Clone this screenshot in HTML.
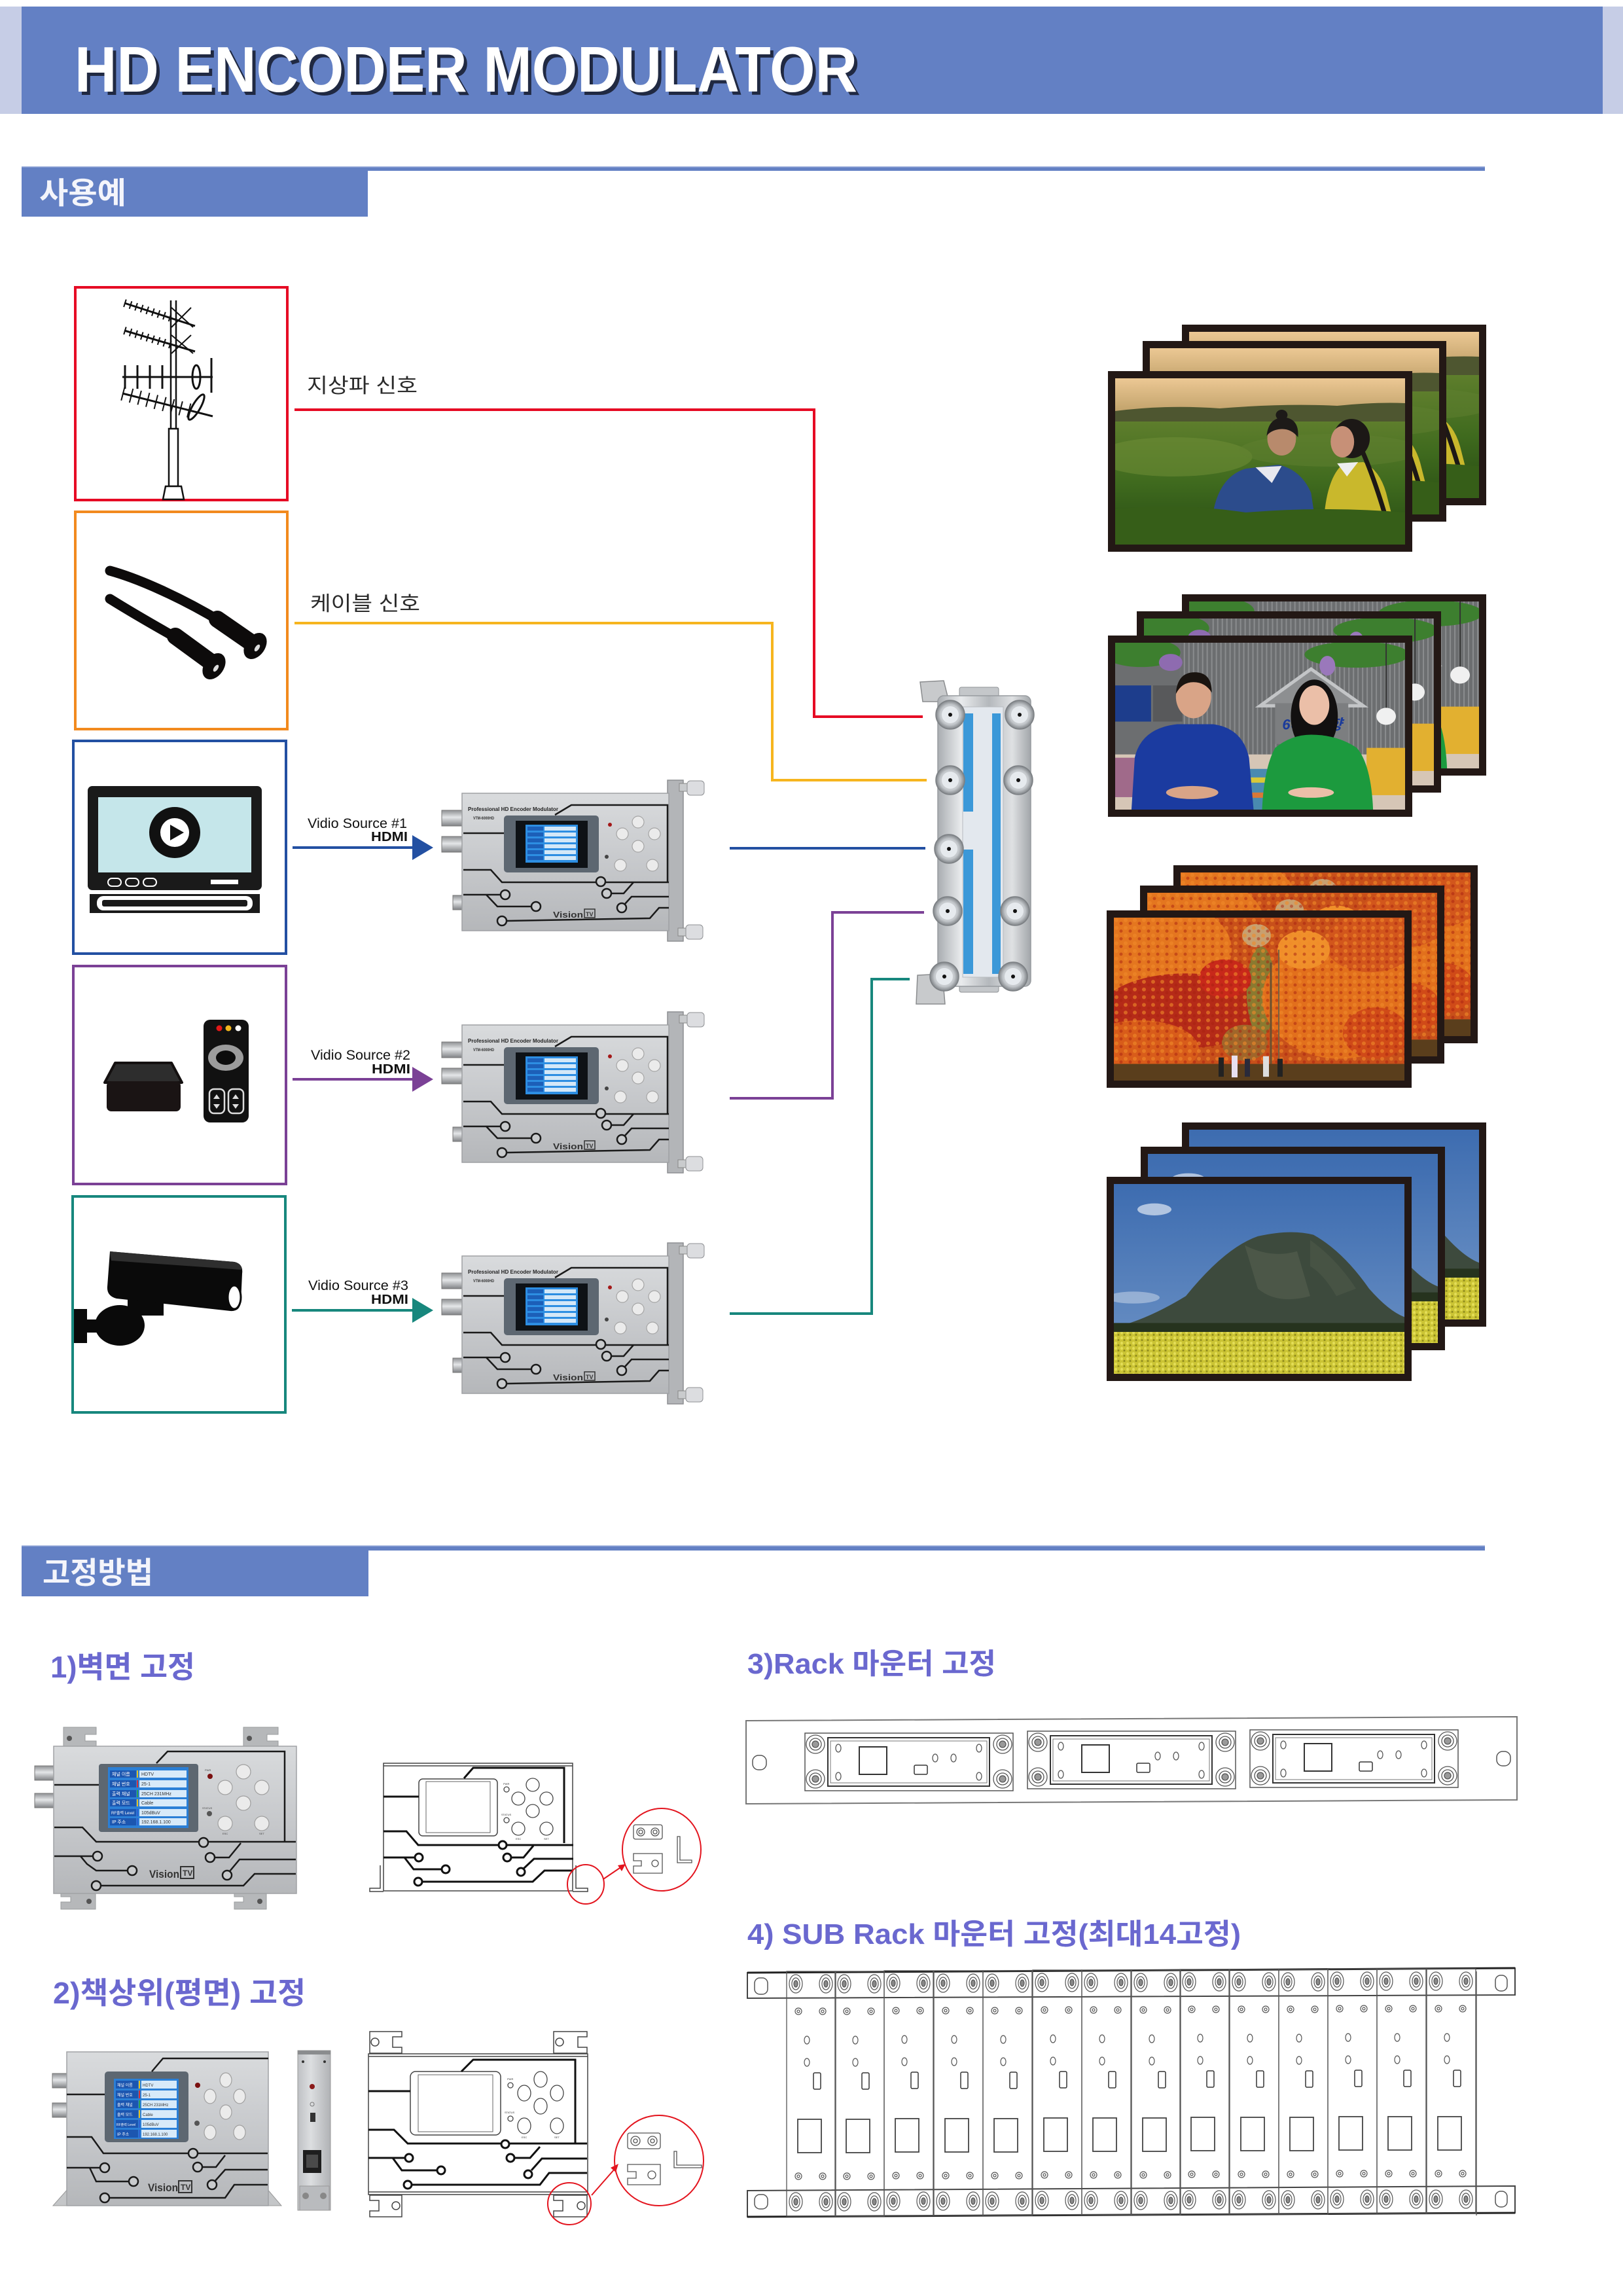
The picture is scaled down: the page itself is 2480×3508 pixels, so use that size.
<!DOCTYPE html>
<html><head><meta charset="utf-8"><style>
html,body{margin:0;padding:0;background:#fff;}
body{width:2480px;height:3508px;overflow:hidden;}
svg{display:block;}
text{font-family:"Liberation Sans","Noto Sans CJK KR",sans-serif;}
</style></head><body>
<svg width="2480" height="3508" viewBox="0 0 2480 3508" xmlns="http://www.w3.org/2000/svg">
<defs>
<linearGradient id="silver" x1="0" y1="0" x2="0" y2="1"><stop offset="0" stop-color="#d9dbdd"/><stop offset=".5" stop-color="#c7c9cc"/><stop offset="1" stop-color="#b5b7ba"/></linearGradient>
<linearGradient id="silverH" x1="0" y1="0" x2="1" y2="0"><stop offset="0" stop-color="#bfc1c4"/><stop offset=".4" stop-color="#dcdee0"/><stop offset="1" stop-color="#b0b2b5"/></linearGradient>
<linearGradient id="conn" x1="0" y1="0" x2="0" y2="1"><stop offset="0" stop-color="#8e9093"/><stop offset=".45" stop-color="#e4e6e8"/><stop offset="1" stop-color="#808285"/></linearGradient>
<linearGradient id="spl" x1="0" y1="0" x2="1" y2="0"><stop offset="0" stop-color="#a9adb1"/><stop offset=".25" stop-color="#e9ebed"/><stop offset=".55" stop-color="#b4b8bc"/><stop offset=".8" stop-color="#dfe1e3"/><stop offset="1" stop-color="#a2a6aa"/></linearGradient>
<radialGradient id="connG"><stop offset="0" stop-color="#f2f4f6"/><stop offset=".7" stop-color="#c3c7cb"/><stop offset="1" stop-color="#7f8387"/></radialGradient>
<linearGradient id="sky1" x1="0" y1="0" x2="0" y2="1"><stop offset="0" stop-color="#ecc894"/><stop offset="1" stop-color="#b89a62"/></linearGradient>
<linearGradient id="field1" x1="0" y1="0" x2="0" y2="1"><stop offset="0" stop-color="#5e7e2c"/><stop offset=".5" stop-color="#3f6a1e"/><stop offset="1" stop-color="#264a12"/></linearGradient>
<linearGradient id="sky4" x1="0" y1="0" x2="0" y2="1"><stop offset="0" stop-color="#3d6cb0"/><stop offset="1" stop-color="#6f94c6"/></linearGradient>
<pattern id="stripes" width="7" height="10" patternUnits="userSpaceOnUse"><rect width="7" height="10" fill="#6c6e70"/><rect width="2" height="10" fill="#8a8c8e"/></pattern>
<pattern id="flowers" width="9" height="7" patternUnits="userSpaceOnUse"><rect width="9" height="7" fill="#cbc434"/><circle cx="3" cy="3" r="2" fill="#e4de58"/><circle cx="7" cy="6" r="1.5" fill="#8e8a1c"/></pattern>
<pattern id="leaves" width="14" height="12" patternUnits="userSpaceOnUse"><circle cx="4" cy="4" r="3" fill="#f08a2a" opacity=".6"/><circle cx="11" cy="9" r="2.5" fill="#a8200f" opacity=".5"/></pattern>

<symbol id="sc1" viewBox="0 0 444 254" preserveAspectRatio="none">
<rect width="444" height="254" fill="#426a1e"/>
<rect width="444" height="62" fill="url(#sky1)"/>
<path d="M0,50 Q80,40 160,46 Q260,38 340,42 Q400,36 444,38 L444,74 L0,74Z" fill="#4e5630"/>
<rect y="66" width="444" height="188" fill="url(#field1)"/>
<ellipse cx="90" cy="120" rx="120" ry="30" fill="#6f8e36" opacity=".55"/>
<ellipse cx="330" cy="110" rx="140" ry="25" fill="#5f8030" opacity=".5"/>
<path d="M150,205 Q160,150 200,138 L250,132 Q285,140 300,175 L305,208 Z" fill="#2c4c8c"/>
<path d="M215,136 L240,160 L255,134Z" fill="#e8e8ee"/>
<ellipse cx="255" cy="92" rx="22" ry="26" fill="#b88a6c"/>
<path d="M232,88 Q235,58 262,60 Q282,64 280,90 Q268,75 250,78 Q238,80 232,88Z" fill="#1d1a18"/>
<ellipse cx="255" cy="56" rx="9" ry="8" fill="#1d1a18"/>
<ellipse cx="362" cy="92" rx="28" ry="30" fill="#1c1816"/>
<ellipse cx="348" cy="97" rx="18" ry="24" fill="#c79077"/>
<path d="M320,212 Q325,150 350,130 L380,128 Q405,140 415,175 L425,214Z" fill="#c9b82c"/>
<path d="M340,130 L355,150 L372,128Z" fill="#eeeeee"/>
<path d="M378,110 Q400,160 420,232" stroke="#1c1816" stroke-width="7" fill="none"/>
<path d="M0,200 Q100,190 200,205 Q320,195 444,205 L444,254 L0,254Z" fill="#365e18"/>
</symbol>

<symbol id="sc2" viewBox="0 0 444 254" preserveAspectRatio="none">
<rect width="444" height="254" fill="#6c6e70"/>
<rect x="100" y="0" width="344" height="175" fill="url(#stripes)"/>
<rect x="0" y="65" width="55" height="55" fill="#1d3d8c"/>
<rect x="58" y="65" width="45" height="55" fill="#58595b"/>
<ellipse cx="40" cy="15" rx="60" ry="22" fill="#3d7f2f"/>
<ellipse cx="85" cy="30" rx="18" ry="13" fill="#8e6bb0"/>
<ellipse cx="370" cy="18" rx="80" ry="20" fill="#3d7f2f"/>
<ellipse cx="325" cy="35" rx="12" ry="15" fill="#9a78bb"/>
<polygon points="222,96 300,40 380,96" fill="#8d8f91" stroke="#c3c5c7" stroke-width="5"/>
<rect x="245" y="92" width="112" height="62" fill="#7c7e80"/>
<text x="256" y="132" font-size="22" font-style="italic" font-weight="bold" fill="#1a3a9a" textLength="92">6시내고향</text>
<line x1="415" y1="0" x2="415" y2="100" stroke="#333" stroke-width="2"/>
<ellipse cx="415" cy="112" rx="15" ry="13" fill="#f0f0f0"/>
<rect x="0" y="170" width="444" height="84" fill="#d6c6b6"/>
<rect x="150" y="192" width="120" height="62" fill="#4a8ab0"/>
<rect x="150" y="205" width="120" height="8" fill="#d8c838"/>
<rect x="150" y="228" width="120" height="8" fill="#d87838"/>
<rect x="385" y="160" width="59" height="72" fill="#e2b030"/>
<rect x="0" y="175" width="30" height="60" fill="#a06a8a"/>
<path d="M25,254 L30,175 Q40,130 95,124 L150,124 Q195,130 205,175 L212,254Z" fill="#1b3ba0"/>
<ellipse cx="120" cy="82" rx="27" ry="33" fill="#d9a487"/>
<path d="M93,78 Q95,45 122,45 Q148,45 148,76 Q138,60 120,60 Q102,60 93,78Z" fill="#1a1410"/>
<ellipse cx="118" cy="228" rx="40" ry="10" fill="#d9a487"/>
<ellipse cx="305" cy="112" rx="36" ry="56" fill="#121010"/>
<ellipse cx="305" cy="95" rx="23" ry="30" fill="#ebbfa8"/>
<path d="M225,254 Q228,190 245,160 Q270,140 300,140 Q340,140 370,160 Q392,185 395,254Z" fill="#1c9a3e"/>
<ellipse cx="300" cy="228" rx="35" ry="8" fill="#ebbfa8"/>
</symbol>

<symbol id="sc3" viewBox="0 0 444 254" preserveAspectRatio="none">
<rect width="444" height="254" fill="#c8501a"/>
<ellipse cx="60" cy="50" rx="120" ry="80" fill="#e4761f"/>
<ellipse cx="110" cy="145" rx="130" ry="58" fill="#b52a18"/>
<ellipse cx="40" cy="205" rx="90" ry="45" fill="#d85c1a"/>
<ellipse cx="225" cy="115" rx="22" ry="70" fill="#8a7a30"/>
<ellipse cx="218" cy="28" rx="22" ry="18" fill="#c8a070"/>
<ellipse cx="345" cy="125" rx="118" ry="95" fill="#e2701c"/>
<ellipse cx="392" cy="40" rx="70" ry="45" fill="#d2561c"/>
<ellipse cx="290" cy="50" rx="40" ry="30" fill="#f0902a"/>
<ellipse cx="170" cy="95" rx="40" ry="30" fill="#c8281a"/>
<ellipse cx="400" cy="180" rx="50" ry="40" fill="#d04a18"/>
<ellipse cx="200" cy="195" rx="35" ry="28" fill="#a0662a"/>
<rect width="444" height="230" fill="url(#leaves)"/>
<line x1="240" y1="70" x2="240" y2="232" stroke="#6a5030" stroke-width="3"/>
<line x1="252" y1="50" x2="252" y2="232" stroke="#7a6040" stroke-width="2"/>
<rect x="0" y="228" width="444" height="26" fill="#5a3e1c"/>
<rect x="160" y="218" width="8" height="30" fill="#222"/><rect x="180" y="215" width="9" height="34" fill="#e8e0f0"/><rect x="200" y="220" width="8" height="28" fill="#2a2a3a"/><rect x="228" y="216" width="9" height="32" fill="#ddd"/><rect x="250" y="220" width="8" height="28" fill="#222"/>
</symbol>

<symbol id="sc4" viewBox="0 0 444 254" preserveAspectRatio="none">
<rect width="444" height="254" fill="url(#sky4)"/>
<ellipse cx="62" cy="34" rx="26" ry="8" fill="#dfe8f3" opacity=".7"/>
<ellipse cx="30" cy="152" rx="40" ry="8" fill="#cfdcec" opacity=".5"/>
<path d="M0,192 Q50,182 110,150 Q170,85 220,70 Q270,60 305,68 Q350,90 390,140 Q420,170 444,178 L444,205 L0,205Z" fill="#3d4a3d"/>
<path d="M200,82 Q240,100 280,90 L300,150 Q250,162 220,140Z" fill="#566150" opacity=".6"/>
<path d="M300,75 Q340,100 370,140 L340,150 Q320,120 300,110Z" fill="#4e5a4a" opacity=".6"/>
<rect x="0" y="186" width="444" height="16" fill="#26331e"/>
<rect x="0" y="198" width="444" height="56" fill="url(#flowers)"/>
</symbol>

<g id="rkm">
<rect x="0" y="2648" width="318" height="88" fill="#fff" stroke="#555" stroke-width="1.5"/>
<rect x="35" y="2655" width="247" height="74" fill="none" stroke="#333" stroke-width="2"/>
<rect x="39" y="2660" width="239" height="64" fill="none" stroke="#777" stroke-width="1"/>
<g fill="none" stroke="#555" stroke-width="1.3">
<circle cx="16" cy="2665" r="14"/><circle cx="16" cy="2665" r="9"/><circle cx="16" cy="2665" r="5" fill="#999"/>
<circle cx="16" cy="2718" r="14"/><circle cx="16" cy="2718" r="9"/><circle cx="16" cy="2718" r="5" fill="#999"/>
<circle cx="302" cy="2665" r="14"/><circle cx="302" cy="2665" r="9"/><circle cx="302" cy="2665" r="5" fill="#999"/>
<circle cx="302" cy="2718" r="14"/><circle cx="302" cy="2718" r="9"/><circle cx="302" cy="2718" r="5" fill="#999"/>
<ellipse cx="51" cy="2671" rx="4" ry="6"/><ellipse cx="51" cy="2714" rx="4" ry="6"/>
<ellipse cx="266" cy="2671" rx="4" ry="6"/><ellipse cx="266" cy="2714" rx="4" ry="6"/>
<ellipse cx="199" cy="2686" rx="4" ry="6"/><ellipse cx="227" cy="2686" rx="4" ry="6"/>
</g>
<rect x="83" y="2669" width="42" height="42" fill="none" stroke="#333" stroke-width="2"/>
<rect x="167" y="2697" width="20" height="14" rx="2" fill="none" stroke="#333" stroke-width="1.5"/>
</g>

<g id="srm">
<rect x="0" y="3012" width="75" height="374" fill="none" stroke="#555" stroke-width="1.3"/>
<g fill="none" stroke="#555" stroke-width="1.2">
<ellipse cx="14" cy="3031" rx="10" ry="14"/><ellipse cx="14" cy="3031" rx="6" ry="9"/><ellipse cx="14" cy="3031" rx="3" ry="5" fill="#888"/>
<ellipse cx="60" cy="3031" rx="10" ry="14"/><ellipse cx="60" cy="3031" rx="6" ry="9"/><ellipse cx="60" cy="3031" rx="3" ry="5" fill="#888"/>
<ellipse cx="14" cy="3364" rx="10" ry="14"/><ellipse cx="14" cy="3364" rx="6" ry="9"/><ellipse cx="14" cy="3364" rx="3" ry="5" fill="#888"/>
<ellipse cx="60" cy="3364" rx="10" ry="14"/><ellipse cx="60" cy="3364" rx="6" ry="9"/><ellipse cx="60" cy="3364" rx="3" ry="5" fill="#888"/>
<circle cx="18" cy="3073" r="5"/><circle cx="18" cy="3073" r="2"/><circle cx="55" cy="3073" r="5"/><circle cx="55" cy="3073" r="2"/>
<circle cx="18" cy="3325" r="5"/><circle cx="18" cy="3325" r="2"/><circle cx="55" cy="3325" r="5"/><circle cx="55" cy="3325" r="2"/>
<ellipse cx="31" cy="3117" rx="4" ry="6"/><ellipse cx="31" cy="3151" rx="4" ry="6"/>
</g>
<rect x="41" y="3167" width="11" height="25" rx="2" fill="none" stroke="#333" stroke-width="1.5"/>
<rect x="17" y="3238" width="36" height="51" fill="none" stroke="#444" stroke-width="1.8"/>
</g>
</defs>

<!-- HEADER -->
<rect x="0" y="10" width="2480" height="164" fill="#c6cde6"/>
<rect x="33" y="10" width="2416" height="164" fill="#6380c4"/>
<text x="119" y="145" font-size="98" font-weight="bold" fill="#151a2c" opacity=".85" textLength="1196" lengthAdjust="spacingAndGlyphs">HD ENCODER MODULATOR</text>
<text x="114" y="140" font-size="98" font-weight="bold" fill="#ffffff" textLength="1196" lengthAdjust="spacingAndGlyphs">HD ENCODER MODULATOR</text>

<!-- SECTION 1 -->
<rect x="33" y="254" width="2236" height="7" fill="#6380c4"/>
<rect x="33" y="254" width="2236" height="1.5" fill="#aebde2"/>
<rect x="33" y="261" width="529" height="70" fill="#6380c4"/>
<text x="60" y="311" font-size="46" font-weight="bold" fill="#f4f5fb" textLength="133" lengthAdjust="spacingAndGlyphs">사용예</text>

<!-- SOURCE BOXES -->
<rect x="115" y="439" width="324" height="325" fill="none" stroke="#e60a24" stroke-width="4"/>
<rect x="115" y="782" width="324" height="332" fill="none" stroke="#f28a1e" stroke-width="4"/>
<rect x="112" y="1132" width="325" height="325" fill="none" stroke="#2350a2" stroke-width="4"/>
<rect x="112" y="1476" width="325" height="333" fill="none" stroke="#7b4196" stroke-width="4"/>
<rect x="111" y="1828" width="325" height="330" fill="none" stroke="#17877d" stroke-width="4"/>

<!-- antenna -->
<g stroke="#111" fill="none">
<line x1="261" y1="459" x2="261" y2="655" stroke-width="2.5"/>
<line x1="269" y1="459" x2="269" y2="655" stroke-width="2.5"/>
<rect x="258" y="655" width="14" height="88" stroke-width="2.5" fill="#fff"/>
<polygon points="253,743 277,743 281,763 249,763" stroke-width="2.5" fill="#fff"/>
<line x1="190" y1="463" x2="298" y2="498" stroke-width="3"/>
<line x1="190" y1="463" x2="262" y2="486" stroke-width="12" stroke-dasharray="2 7"/>
<line x1="262" y1="470" x2="295" y2="500" stroke-width="2"/><line x1="262" y1="500" x2="292" y2="470" stroke-width="2"/>
<line x1="190" y1="505" x2="298" y2="537" stroke-width="3"/>
<line x1="190" y1="505" x2="262" y2="527" stroke-width="12" stroke-dasharray="2 7"/>
<line x1="262" y1="512" x2="295" y2="540" stroke-width="2"/><line x1="262" y1="540" x2="292" y2="512" stroke-width="2"/>
<line x1="187" y1="576" x2="325" y2="576" stroke-width="3"/>
<line x1="191" y1="558" x2="191" y2="594" stroke-width="3"/>
<line x1="210" y1="558" x2="210" y2="594" stroke-width="3"/>
<line x1="229" y1="558" x2="229" y2="594" stroke-width="3"/>
<line x1="248" y1="558" x2="248" y2="594" stroke-width="3"/>
<ellipse cx="300" cy="576" rx="6" ry="18" stroke-width="3"/>
<line x1="323" y1="547" x2="323" y2="600" stroke-width="3"/>
<line x1="187" y1="601" x2="325" y2="636" stroke-width="3"/>
<line x1="187" y1="601" x2="300" y2="630" stroke-width="22" stroke-dasharray="2 11"/>
<ellipse cx="300" cy="622" rx="6" ry="22" transform="rotate(30 300 622)" stroke-width="3"/>
</g>

<!-- cables -->
<g fill="#0d0b0b">
<path d="M168,872 C215,885 280,915 338,950" stroke="#0d0b0b" stroke-width="15" fill="none" stroke-linecap="round"/>
<line x1="332" y1="946" x2="384" y2="982" stroke="#0d0b0b" stroke-width="26" stroke-linecap="round"/>
<ellipse cx="390" cy="987" rx="15" ry="22" transform="rotate(35 390 987)"/>
<ellipse cx="393" cy="990" rx="3" ry="6" fill="#ddd" transform="rotate(35 393 990)"/>
<path d="M168,915 C200,935 240,958 272,976" stroke="#0d0b0b" stroke-width="15" fill="none" stroke-linecap="round"/>
<line x1="268" y1="972" x2="320" y2="1010" stroke="#0d0b0b" stroke-width="26" stroke-linecap="round"/>
<ellipse cx="327" cy="1018" rx="15" ry="22" transform="rotate(35 327 1018)"/>
<ellipse cx="330" cy="1021" rx="3" ry="6" fill="#ddd" transform="rotate(35 330 1021)"/>
</g>

<!-- TV icon -->
<rect x="134" y="1201" width="266" height="159" rx="7" fill="#1a1a1a"/>
<rect x="150" y="1218" width="234" height="115" fill="#c5e6ea"/>
<circle cx="267" cy="1272" r="39" fill="#111"/>
<circle cx="267" cy="1272" r="22" fill="#fff"/>
<polygon points="260,1260 260,1284 281,1272" fill="#111"/>
<rect x="165" y="1342" width="20" height="12" rx="6" fill="none" stroke="#fff" stroke-width="2"/>
<rect x="192" y="1342" width="20" height="12" rx="6" fill="none" stroke="#fff" stroke-width="2"/>
<rect x="219" y="1342" width="20" height="12" rx="6" fill="none" stroke="#fff" stroke-width="2"/>
<rect x="322" y="1344" width="42" height="7" fill="#fff"/>
<rect x="137" y="1366" width="260" height="29" fill="#1a1a1a"/>
<rect x="148" y="1369" width="238" height="22" rx="10" fill="#fff"/>
<rect x="156" y="1375" width="222" height="10" rx="3" fill="#1a1a1a"/>

<!-- set-top box & remote -->
<polygon points="176,1624 262,1624 278,1654 160,1654" fill="#2d2d2d" stroke="#141010" stroke-width="4" stroke-linejoin="round"/>
<rect x="163" y="1652" width="113" height="46" rx="7" fill="#1a1414"/>
<rect x="311" y="1558" width="69" height="157" rx="10" fill="#111"/>
<circle cx="335" cy="1571" r="4.5" fill="#e21818"/>
<circle cx="349" cy="1571" r="4.5" fill="#f2b51d"/>
<circle cx="364" cy="1571" r="4.5" fill="#fff"/>
<ellipse cx="345" cy="1616" rx="27" ry="20" fill="#9c9c9c"/>
<ellipse cx="345" cy="1616" rx="15" ry="11" fill="#0c0c0c"/>
<rect x="320" y="1664" width="23" height="37" rx="7" fill="none" stroke="#ddd" stroke-width="2.5"/>
<rect x="349" y="1664" width="23" height="37" rx="7" fill="none" stroke="#ddd" stroke-width="2.5"/>
<polygon points="331,1672 326,1679 336,1679" fill="#ddd"/><polygon points="331,1694 326,1687 336,1687" fill="#ddd"/>
<polygon points="360,1672 355,1679 365,1679" fill="#ddd"/><polygon points="360,1694 355,1687 365,1687" fill="#ddd"/>

<!-- camera -->
<rect x="113" y="2000" width="20" height="52" fill="#0a0a0a"/>
<rect x="130" y="2016" width="35" height="20" fill="#0a0a0a"/>
<ellipse cx="183" cy="2025" rx="38" ry="31" fill="#0a0a0a"/>
<rect x="195" y="1960" width="55" height="50" fill="#0a0a0a"/>
<path d="M168,1912 L358,1928 Q372,1931 370,1946 L368,1990 Q366,2004 352,2003 L178,1984 Q163,1980 164,1966 Z" fill="#0a0a0a"/>
<path d="M168,1912 L358,1928 Q370,1931 369,1940 L170,1926 Z" fill="#2e2e2e"/>
<ellipse cx="358" cy="1982" rx="10" ry="18" fill="#fff" stroke="#0a0a0a" stroke-width="3"/>

<!-- labels -->
<text x="469" y="600" font-size="31" fill="#2b2b2b" textLength="169" lengthAdjust="spacingAndGlyphs">지상파 신호</text>
<text x="474" y="933" font-size="31" fill="#2b2b2b" textLength="168" lengthAdjust="spacingAndGlyphs">케이블 신호</text>

<!-- connectors -->
<g fill="none" stroke-width="4">
<polyline points="450,626 1244,626 1244,1095 1410,1095" stroke="#e60a24"/>
<polyline points="450,952 1180,952 1180,1192 1416,1192" stroke="#f6b51e"/>
<polyline points="1115,1296 1414,1296" stroke="#2350a2"/>
<polyline points="1115,1678 1272,1678 1272,1394 1412,1394" stroke="#7b4196"/>
<polyline points="1115,2007 1332,2007 1332,1496 1390,1496" stroke="#17877d"/>
<line x1="447" y1="1295" x2="634" y2="1295" stroke="#2350a2"/>
<line x1="447" y1="1649" x2="634" y2="1649" stroke="#7b4196"/>
<line x1="446" y1="2002" x2="634" y2="2002" stroke="#17877d"/>
</g>
<polygon points="630,1276 662,1295 630,1314" fill="#2350a2"/>
<polygon points="630,1630 662,1649 630,1668" fill="#7b4196"/>
<polygon points="630,1983 662,2002 630,2021" fill="#17877d"/>

<text x="470" y="1265" font-size="21" fill="#111" textLength="152" lengthAdjust="spacingAndGlyphs">Vidio Source #1</text>
<text x="567" y="1285" font-size="20" font-weight="bold" fill="#111" textLength="56" lengthAdjust="spacingAndGlyphs">HDMI</text>
<text x="475" y="1619" font-size="21" fill="#111" textLength="152" lengthAdjust="spacingAndGlyphs">Vidio Source #2</text>
<text x="568" y="1640" font-size="20" font-weight="bold" fill="#111" textLength="59" lengthAdjust="spacingAndGlyphs">HDMI</text>
<text x="471" y="1971" font-size="21" fill="#111" textLength="153" lengthAdjust="spacingAndGlyphs">Vidio Source #3</text>
<text x="567" y="1992" font-size="20" font-weight="bold" fill="#111" textLength="57" lengthAdjust="spacingAndGlyphs">HDMI</text>

<!-- ENCODER DEVICES -->
<g id="dv1">
<rect x="1020" y="1192" width="24" height="246" fill="#b3b5b8" stroke="#8d8f92" stroke-width="1.5"/>
<rect x="1038" y="1197" width="14" height="12" fill="#c9cbcd" stroke="#888"/>
<rect x="1050" y="1193" width="26" height="22" rx="5" fill="#dcdde0" stroke="#8f9194"/>
<rect x="1036" y="1418" width="14" height="12" fill="#c9cbcd" stroke="#888"/>
<rect x="1048" y="1413" width="26" height="22" rx="5" fill="#dcdde0" stroke="#8f9194"/>
<rect x="675" y="1238" width="34" height="24" fill="url(#conn)" stroke="#777"/>
<rect x="675" y="1278" width="34" height="24" fill="url(#conn)" stroke="#777"/>
<rect x="692" y="1368" width="18" height="22" fill="url(#conn)" stroke="#777"/>
<rect x="706" y="1212" width="316" height="210" fill="url(#silver)" stroke="#9fa1a4" stroke-width="1.5"/>
<text x="715" y="1239" font-size="8.5" font-weight="bold" fill="#222" textLength="138" lengthAdjust="spacingAndGlyphs">Professional HD Encoder Modulator</text>
<text x="723" y="1252" font-size="6" font-weight="bold" fill="#333" textLength="32" lengthAdjust="spacingAndGlyphs">VTM-6000HD</text>
<rect x="770" y="1246" width="145" height="87" rx="5" fill="#5d6771"/>
<rect x="788" y="1254" width="110" height="72" fill="#0e1216"/>
<rect x="803" y="1260" width="80" height="58" fill="#2d8ee2"/>
<g fill="#d4e8f8"><rect x="832" y="1263" width="48" height="6"/><rect x="832" y="1272" width="48" height="6"/><rect x="832" y="1281" width="48" height="6"/><rect x="832" y="1290" width="48" height="6"/><rect x="832" y="1299" width="48" height="6"/><rect x="832" y="1308" width="48" height="6"/></g>
<g fill="#1c5fb8"><rect x="806" y="1263" width="24" height="6"/><rect x="806" y="1272" width="24" height="6"/><rect x="806" y="1281" width="24" height="6"/><rect x="806" y="1290" width="24" height="6"/><rect x="806" y="1299" width="24" height="6"/><rect x="806" y="1308" width="24" height="6"/></g>
<g fill="none" stroke="#1a1a1a" stroke-width="2.5">
<polyline points="848,1245 873,1230 1020,1230 1020,1347"/>
<line x1="708" y1="1273" x2="770" y2="1273"/>
<polyline points="708,1329 750,1329 767,1348 911,1348"/>
<line x1="925" y1="1348" x2="1022" y2="1348"/>
<polyline points="708,1367 765,1367"/>
<polyline points="743,1367 760,1385 812,1385"/>
<polyline points="774,1407 993,1403 1007,1387 1022,1387"/>
<polyline points="934,1365 953,1365 968,1348"/>
<polyline points="955,1381 965,1370 1022,1370"/>
</g>
<g fill="#c9cbcd" stroke="#1a1a1a" stroke-width="2.5">
<circle cx="918" cy="1347" r="7"/><circle cx="772" cy="1367" r="7"/><circle cx="819" cy="1385" r="7"/><circle cx="767" cy="1407" r="7"/><circle cx="927" cy="1365" r="7"/><circle cx="950" cy="1387" r="7"/>
</g>
<g fill="#ebebeb" stroke="#a5a5a5" stroke-width="1.2">
<circle cx="975" cy="1256" r="9"/><circle cx="951" cy="1274" r="9"/><circle cx="1000" cy="1274" r="9"/><circle cx="975" cy="1293" r="9"/><circle cx="948" cy="1322" r="9"/><circle cx="997" cy="1322" r="9"/>
</g>
<circle cx="932" cy="1260" r="3" fill="#a31818"/>
<circle cx="927" cy="1309" r="3" fill="#444"/>
<text x="845" y="1402" font-size="13" font-weight="bold" fill="#333" textLength="46" lengthAdjust="spacingAndGlyphs">Vision</text>
<rect x="893" y="1389" width="16" height="13" fill="none" stroke="#333" stroke-width="1.5"/>
<text x="895" y="1400" font-size="9" font-weight="bold" fill="#333">TV</text>
</g>

<g transform="translate(0,354)">
<rect x="1020" y="1192" width="24" height="246" fill="#b3b5b8" stroke="#8d8f92" stroke-width="1.5"/>
<rect x="1038" y="1197" width="14" height="12" fill="#c9cbcd" stroke="#888"/>
<rect x="1050" y="1193" width="26" height="22" rx="5" fill="#dcdde0" stroke="#8f9194"/>
<rect x="1036" y="1418" width="14" height="12" fill="#c9cbcd" stroke="#888"/>
<rect x="1048" y="1413" width="26" height="22" rx="5" fill="#dcdde0" stroke="#8f9194"/>
<rect x="675" y="1238" width="34" height="24" fill="url(#conn)" stroke="#777"/>
<rect x="675" y="1278" width="34" height="24" fill="url(#conn)" stroke="#777"/>
<rect x="692" y="1368" width="18" height="22" fill="url(#conn)" stroke="#777"/>
<rect x="706" y="1212" width="316" height="210" fill="url(#silver)" stroke="#9fa1a4" stroke-width="1.5"/>
<text x="715" y="1239" font-size="8.5" font-weight="bold" fill="#222" textLength="138" lengthAdjust="spacingAndGlyphs">Professional HD Encoder Modulator</text>
<text x="723" y="1252" font-size="6" font-weight="bold" fill="#333" textLength="32" lengthAdjust="spacingAndGlyphs">VTM-6000HD</text>
<rect x="770" y="1246" width="145" height="87" rx="5" fill="#5d6771"/>
<rect x="788" y="1254" width="110" height="72" fill="#0e1216"/>
<rect x="803" y="1260" width="80" height="58" fill="#2d8ee2"/>
<g fill="#d4e8f8"><rect x="832" y="1263" width="48" height="6"/><rect x="832" y="1272" width="48" height="6"/><rect x="832" y="1281" width="48" height="6"/><rect x="832" y="1290" width="48" height="6"/><rect x="832" y="1299" width="48" height="6"/><rect x="832" y="1308" width="48" height="6"/></g>
<g fill="#1c5fb8"><rect x="806" y="1263" width="24" height="6"/><rect x="806" y="1272" width="24" height="6"/><rect x="806" y="1281" width="24" height="6"/><rect x="806" y="1290" width="24" height="6"/><rect x="806" y="1299" width="24" height="6"/><rect x="806" y="1308" width="24" height="6"/></g>
<g fill="none" stroke="#1a1a1a" stroke-width="2.5">
<polyline points="848,1245 873,1230 1020,1230 1020,1347"/>
<line x1="708" y1="1273" x2="770" y2="1273"/>
<polyline points="708,1329 750,1329 767,1348 911,1348"/>
<line x1="925" y1="1348" x2="1022" y2="1348"/>
<polyline points="708,1367 765,1367"/>
<polyline points="743,1367 760,1385 812,1385"/>
<polyline points="774,1407 993,1403 1007,1387 1022,1387"/>
<polyline points="934,1365 953,1365 968,1348"/>
<polyline points="955,1381 965,1370 1022,1370"/>
</g>
<g fill="#c9cbcd" stroke="#1a1a1a" stroke-width="2.5">
<circle cx="918" cy="1347" r="7"/><circle cx="772" cy="1367" r="7"/><circle cx="819" cy="1385" r="7"/><circle cx="767" cy="1407" r="7"/><circle cx="927" cy="1365" r="7"/><circle cx="950" cy="1387" r="7"/>
</g>
<g fill="#ebebeb" stroke="#a5a5a5" stroke-width="1.2">
<circle cx="975" cy="1256" r="9"/><circle cx="951" cy="1274" r="9"/><circle cx="1000" cy="1274" r="9"/><circle cx="975" cy="1293" r="9"/><circle cx="948" cy="1322" r="9"/><circle cx="997" cy="1322" r="9"/>
</g>
<circle cx="932" cy="1260" r="3" fill="#a31818"/>
<circle cx="927" cy="1309" r="3" fill="#444"/>
<text x="845" y="1402" font-size="13" font-weight="bold" fill="#333" textLength="46" lengthAdjust="spacingAndGlyphs">Vision</text>
<rect x="893" y="1389" width="16" height="13" fill="none" stroke="#333" stroke-width="1.5"/>
<text x="895" y="1400" font-size="9" font-weight="bold" fill="#333">TV</text>
</g>

<g transform="translate(0,707)">
<rect x="1020" y="1192" width="24" height="246" fill="#b3b5b8" stroke="#8d8f92" stroke-width="1.5"/>
<rect x="1038" y="1197" width="14" height="12" fill="#c9cbcd" stroke="#888"/>
<rect x="1050" y="1193" width="26" height="22" rx="5" fill="#dcdde0" stroke="#8f9194"/>
<rect x="1036" y="1418" width="14" height="12" fill="#c9cbcd" stroke="#888"/>
<rect x="1048" y="1413" width="26" height="22" rx="5" fill="#dcdde0" stroke="#8f9194"/>
<rect x="675" y="1238" width="34" height="24" fill="url(#conn)" stroke="#777"/>
<rect x="675" y="1278" width="34" height="24" fill="url(#conn)" stroke="#777"/>
<rect x="692" y="1368" width="18" height="22" fill="url(#conn)" stroke="#777"/>
<rect x="706" y="1212" width="316" height="210" fill="url(#silver)" stroke="#9fa1a4" stroke-width="1.5"/>
<text x="715" y="1239" font-size="8.5" font-weight="bold" fill="#222" textLength="138" lengthAdjust="spacingAndGlyphs">Professional HD Encoder Modulator</text>
<text x="723" y="1252" font-size="6" font-weight="bold" fill="#333" textLength="32" lengthAdjust="spacingAndGlyphs">VTM-6000HD</text>
<rect x="770" y="1246" width="145" height="87" rx="5" fill="#5d6771"/>
<rect x="788" y="1254" width="110" height="72" fill="#0e1216"/>
<rect x="803" y="1260" width="80" height="58" fill="#2d8ee2"/>
<g fill="#d4e8f8"><rect x="832" y="1263" width="48" height="6"/><rect x="832" y="1272" width="48" height="6"/><rect x="832" y="1281" width="48" height="6"/><rect x="832" y="1290" width="48" height="6"/><rect x="832" y="1299" width="48" height="6"/><rect x="832" y="1308" width="48" height="6"/></g>
<g fill="#1c5fb8"><rect x="806" y="1263" width="24" height="6"/><rect x="806" y="1272" width="24" height="6"/><rect x="806" y="1281" width="24" height="6"/><rect x="806" y="1290" width="24" height="6"/><rect x="806" y="1299" width="24" height="6"/><rect x="806" y="1308" width="24" height="6"/></g>
<g fill="none" stroke="#1a1a1a" stroke-width="2.5">
<polyline points="848,1245 873,1230 1020,1230 1020,1347"/>
<line x1="708" y1="1273" x2="770" y2="1273"/>
<polyline points="708,1329 750,1329 767,1348 911,1348"/>
<line x1="925" y1="1348" x2="1022" y2="1348"/>
<polyline points="708,1367 765,1367"/>
<polyline points="743,1367 760,1385 812,1385"/>
<polyline points="774,1407 993,1403 1007,1387 1022,1387"/>
<polyline points="934,1365 953,1365 968,1348"/>
<polyline points="955,1381 965,1370 1022,1370"/>
</g>
<g fill="#c9cbcd" stroke="#1a1a1a" stroke-width="2.5">
<circle cx="918" cy="1347" r="7"/><circle cx="772" cy="1367" r="7"/><circle cx="819" cy="1385" r="7"/><circle cx="767" cy="1407" r="7"/><circle cx="927" cy="1365" r="7"/><circle cx="950" cy="1387" r="7"/>
</g>
<g fill="#ebebeb" stroke="#a5a5a5" stroke-width="1.2">
<circle cx="975" cy="1256" r="9"/><circle cx="951" cy="1274" r="9"/><circle cx="1000" cy="1274" r="9"/><circle cx="975" cy="1293" r="9"/><circle cx="948" cy="1322" r="9"/><circle cx="997" cy="1322" r="9"/>
</g>
<circle cx="932" cy="1260" r="3" fill="#a31818"/>
<circle cx="927" cy="1309" r="3" fill="#444"/>
<text x="845" y="1402" font-size="13" font-weight="bold" fill="#333" textLength="46" lengthAdjust="spacingAndGlyphs">Vision</text>
<rect x="893" y="1389" width="16" height="13" fill="none" stroke="#333" stroke-width="1.5"/>
<text x="895" y="1400" font-size="9" font-weight="bold" fill="#333">TV</text>
</g>

<!-- SPLITTER -->
<polygon points="1406,1042 1442,1040 1450,1072 1410,1072" fill="#c8cacc" stroke="#8a8c8e" stroke-width="1.5"/>
<polygon points="1402,1490 1440,1488 1444,1534 1400,1534" fill="#c8cacc" stroke="#8a8c8e" stroke-width="1.5"/>
<rect x="1466" y="1050" width="60" height="16" rx="3" fill="#c4c7ca" stroke="#8f9396"/>
<rect x="1466" y="1500" width="60" height="16" rx="3" fill="#c4c7ca" stroke="#8f9396"/>
<rect x="1433" y="1063" width="142" height="444" rx="9" fill="url(#spl)" stroke="#979b9f" stroke-width="1.5"/>
<rect x="1471" y="1080" width="62" height="413" fill="#e3e8ee" stroke="#b8bcc0"/>
<rect x="1472" y="1090" width="15" height="150" fill="#3b98d8"/>
<rect x="1472" y="1298" width="15" height="190" fill="#3b98d8"/>
<rect x="1516" y="1090" width="13" height="398" fill="#3b98d8"/>
<g stroke="#7d8185" stroke-width="1.5">
<circle cx="1452" cy="1092" r="22" fill="url(#connG)"/><circle cx="1452" cy="1192" r="22" fill="url(#connG)"/><circle cx="1450" cy="1297" r="22" fill="url(#connG)"/><circle cx="1448" cy="1392" r="22" fill="url(#connG)"/><circle cx="1443" cy="1492" r="22" fill="url(#connG)"/>
<circle cx="1558" cy="1092" r="22" fill="url(#connG)"/><circle cx="1556" cy="1192" r="22" fill="url(#connG)"/><circle cx="1551" cy="1392" r="22" fill="url(#connG)"/><circle cx="1548" cy="1492" r="22" fill="url(#connG)"/>
</g>
<g fill="#e6eaee"><circle cx="1452" cy="1092" r="13"/><circle cx="1452" cy="1192" r="13"/><circle cx="1450" cy="1297" r="13"/><circle cx="1448" cy="1392" r="13"/><circle cx="1443" cy="1492" r="13"/><circle cx="1558" cy="1092" r="13"/><circle cx="1556" cy="1192" r="13"/><circle cx="1551" cy="1392" r="13"/><circle cx="1548" cy="1492" r="13"/></g>
<g fill="#111"><circle cx="1452" cy="1092" r="3"/><circle cx="1452" cy="1192" r="3"/><circle cx="1450" cy="1297" r="3"/><circle cx="1448" cy="1392" r="3"/><circle cx="1443" cy="1492" r="3"/><circle cx="1558" cy="1092" r="3"/><circle cx="1556" cy="1192" r="3"/><circle cx="1551" cy="1392" r="3"/><circle cx="1548" cy="1492" r="3"/></g>

<!-- TV STACKS -->
<rect x="1806" y="496" width="465" height="276" fill="#231815"/>
<use href="#sc1" x="1817" y="507" width="443" height="254"/>
<rect x="1746" y="521" width="464" height="276" fill="#231815"/>
<use href="#sc1" x="1757" y="532" width="442" height="254"/>
<rect x="1693" y="567" width="465" height="276" fill="#231815"/>
<use href="#sc1" x="1704" y="578" width="443" height="254"/>

<rect x="1806" y="908" width="465" height="277" fill="#231815"/>
<use href="#sc2" x="1817" y="919" width="443" height="255"/>
<rect x="1737" y="934" width="465" height="277" fill="#231815"/>
<use href="#sc2" x="1748" y="945" width="443" height="255"/>
<rect x="1693" y="971" width="465" height="277" fill="#231815"/>
<use href="#sc2" x="1704" y="982" width="443" height="255"/>

<rect x="1793" y="1322" width="465" height="272" fill="#231815"/>
<use href="#sc3" x="1804" y="1333" width="443" height="250"/>
<rect x="1742" y="1353" width="465" height="272" fill="#231815"/>
<use href="#sc3" x="1753" y="1364" width="443" height="250"/>
<rect x="1691" y="1391" width="466" height="271" fill="#231815"/>
<use href="#sc3" x="1702" y="1402" width="444" height="249"/>

<rect x="1806" y="1715" width="465" height="312" fill="#231815"/>
<use href="#sc4" x="1817" y="1726" width="443" height="290"/>
<rect x="1743" y="1752" width="465" height="311" fill="#231815"/>
<use href="#sc4" x="1754" y="1763" width="443" height="289"/>
<rect x="1691" y="1798" width="466" height="312" fill="#231815"/>
<use href="#sc4" x="1702" y="1809" width="444" height="290"/>

<!-- SECTION 2 -->
<rect x="33" y="2361" width="2236" height="8" fill="#6380c4"/>
<rect x="33" y="2361" width="2236" height="1.5" fill="#aebde2"/>
<rect x="33" y="2369" width="530" height="70" fill="#6380c4"/>
<text x="65" y="2419" font-size="46" font-weight="bold" fill="#f4f5fb" textLength="169" lengthAdjust="spacingAndGlyphs">고정방법</text>

<text x="77" y="2563" font-size="46" font-weight="bold" fill="#6a68cf" textLength="221" lengthAdjust="spacingAndGlyphs">1)벽면 고정</text>
<text x="81" y="3061" font-size="46" font-weight="bold" fill="#6a68cf" textLength="386" lengthAdjust="spacingAndGlyphs">2)책상위(평면) 고정</text>
<text x="1142" y="2557" font-size="44" font-weight="bold" fill="#6a68cf" textLength="380" lengthAdjust="spacingAndGlyphs">3)Rack 마운터 고정</text>
<text x="1142" y="2970" font-size="44" font-weight="bold" fill="#6a68cf" textLength="754" lengthAdjust="spacingAndGlyphs">4) SUB Rack 마운터 고정(최대14고정)</text>

<!-- 1) WALL PHOTO -->
<g fill="#b6b8ba" stroke="#9a9c9e">
<path d="M97,2639 H147 V2650 H130 V2660 H147 V2670 H97 Z"/>
<path d="M372,2639 H425 V2650 H408 V2660 H425 V2670 H372 Z"/>
<path d="M93,2892 H146 V2917 H93 V2906 H108 V2898 H93 Z"/>
<path d="M358,2892 H407 V2917 H358 V2906 H372 V2898 H358 Z"/>
</g>
<circle cx="106" cy="2656" r="4" fill="#555"/><circle cx="381" cy="2656" r="4" fill="#555"/>
<circle cx="136" cy="2905" r="4" fill="#555"/><circle cx="397" cy="2905" r="4" fill="#555"/>
<rect x="53" y="2698" width="31" height="22" fill="url(#conn)" stroke="#777"/>
<rect x="53" y="2740" width="31" height="22" fill="url(#conn)" stroke="#777"/>
<rect x="82" y="2668" width="371" height="225" fill="url(#silver)" stroke="#a0a2a5" stroke-width="1.5"/>
<rect x="151" y="2695" width="152" height="104" rx="4" fill="#5d6771"/>
<rect x="165" y="2700" width="123" height="93" fill="#2b7fd6"/>
<g font-size="7" fill="#fff">
<rect x="168" y="2705" width="40" height="11" fill="#1c56b0"/><rect x="209" y="2705" width="2" height="11" fill="#e8c020"/><rect x="213" y="2705" width="72" height="11" fill="#d8eaf9"/>
<text x="171" y="2713">채널 이름</text><text x="216" y="2713" fill="#333">HDTV</text>
<rect x="168" y="2720" width="40" height="11" fill="#1c56b0"/><rect x="209" y="2720" width="2" height="11" fill="#d83030"/><rect x="213" y="2720" width="72" height="11" fill="#d8eaf9"/>
<text x="171" y="2728">채널 번호</text><text x="216" y="2728" fill="#333">25-1</text>
<rect x="168" y="2735" width="40" height="11" fill="#1c56b0"/><rect x="209" y="2735" width="2" height="11" fill="#30a050"/><rect x="213" y="2735" width="72" height="11" fill="#d8eaf9"/>
<text x="171" y="2743">출력 채널</text><text x="216" y="2743" fill="#333">25CH 231MHz</text>
<rect x="168" y="2749" width="40" height="11" fill="#1c56b0"/><rect x="209" y="2749" width="2" height="11" fill="#e8c020"/><rect x="213" y="2749" width="72" height="11" fill="#d8eaf9"/>
<text x="171" y="2757">출력 모드</text><text x="216" y="2757" fill="#333">Cable</text>
<rect x="168" y="2764" width="40" height="11" fill="#1c56b0"/><rect x="209" y="2764" width="2" height="11" fill="#3060d0"/><rect x="213" y="2764" width="72" height="11" fill="#d8eaf9"/>
<text x="170" y="2772" font-size="6">RF출력 Level</text><text x="216" y="2772" fill="#333">105dBuV</text>
<rect x="168" y="2778" width="40" height="11" fill="#1c56b0"/><rect x="209" y="2778" width="2" height="11" fill="#3060d0"/><rect x="213" y="2778" width="72" height="11" fill="#d8eaf9"/>
<text x="171" y="2786">IP 주소</text><text x="216" y="2786" fill="#333">192.168.1.100</text>
</g>
<g fill="none" stroke="#1a1a1a" stroke-width="2.5">
<polyline points="239,2694 256,2676 435,2676 435,2814"/>
<line x1="83" y1="2727" x2="151" y2="2727"/>
<polyline points="83,2792 126,2792 147,2814 304,2814"/>
<line x1="318" y1="2814" x2="452" y2="2814"/>
<line x1="83" y1="2836" x2="143" y2="2836"/>
<polyline points="123,2836 133,2848 147,2858 196,2858"/>
<polyline points="153,2881 372,2881 389,2863 452,2863"/>
<polyline points="327,2838 350,2838 368,2816"/>
<polyline points="351,2859 366,2841 452,2841"/>
</g>
<g fill="#c9cbcd" stroke="#1a1a1a" stroke-width="2.5">
<circle cx="311" cy="2815" r="7"/><circle cx="149" cy="2836" r="7"/><circle cx="202" cy="2858" r="7"/><circle cx="147" cy="2881" r="7"/><circle cx="321" cy="2838" r="7"/><circle cx="347" cy="2865" r="7"/>
</g>
<g fill="#ebebeb" stroke="#a0a0a0" stroke-width="1.2">
<circle cx="372" cy="2707" r="11"/><circle cx="344" cy="2731" r="11"/><circle cx="400" cy="2731" r="11"/><circle cx="372" cy="2755" r="11"/><circle cx="344" cy="2786" r="11"/><circle cx="400" cy="2786" r="11"/>
</g>
<circle cx="321" cy="2714" r="4" fill="#7a1010"/><circle cx="320" cy="2771" r="4" fill="#555"/>
<text x="313" y="2706" font-size="4" fill="#444">PWR</text><text x="309" y="2764" font-size="4" fill="#444">STATUS</text>
<text x="340" y="2803" font-size="4" fill="#444">ESC</text><text x="396" y="2803" font-size="4" fill="#444">SET</text>
<text x="228" y="2869" font-size="17" font-weight="bold" fill="#333" textLength="46" lengthAdjust="spacingAndGlyphs">Vision</text>
<rect x="276" y="2852" width="20" height="18" fill="none" stroke="#333" stroke-width="2"/>
<text x="279" y="2866" font-size="12" font-weight="bold" fill="#333">TV</text>

<!-- 1) WALL LINE DRAWING -->
<g fill="none" stroke="#444" stroke-width="1.5">
<rect x="586" y="2694" width="289" height="195"/>
<line x1="586" y1="2698" x2="875" y2="2698"/>
<polyline points="581,2850 581,2885 565,2885 565,2890 586,2890"/>
<polyline points="880,2850 880,2885 898,2885 898,2890 875,2890"/>
<rect x="640" y="2718" width="120" height="87" rx="6"/>
<rect x="651" y="2722" width="98" height="78" stroke="#666" stroke-width="1"/>
</g>
<g fill="none" stroke="#111" stroke-width="3">
<polyline points="709,2717 723,2701 862,2701 862,2816"/>
<line x1="586" y1="2745" x2="640" y2="2745"/>
<polyline points="586,2798 621,2798 639,2819 762,2819"/>
<line x1="774" y1="2819" x2="876" y2="2819"/>
<line x1="586" y1="2838" x2="634" y2="2838"/>
<polyline points="618,2838 632,2856 674,2856"/>
<polyline points="645,2875 814,2875 832,2858 876,2858"/>
<polyline points="781,2838 800,2838 815,2820"/>
<polyline points="800,2855 816,2840 876,2840"/>
</g>
<g fill="#fff" stroke="#111" stroke-width="3">
<circle cx="768" cy="2819" r="6"/><circle cx="640" cy="2838" r="6"/><circle cx="681" cy="2856" r="6"/><circle cx="639" cy="2875" r="6"/><circle cx="775" cy="2838" r="6"/><circle cx="796" cy="2860" r="6"/>
</g>
<g fill="none" stroke="#444" stroke-width="1.3">
<circle cx="814" cy="2727" r="10"/><circle cx="792" cy="2748" r="10"/><circle cx="835" cy="2748" r="10"/><circle cx="814" cy="2767" r="10"/><circle cx="792" cy="2794" r="10"/><circle cx="835" cy="2794" r="10"/>
<circle cx="774" cy="2734" r="4"/><circle cx="774" cy="2781" r="4"/>
</g>
<text x="769" y="2727" font-size="4" fill="#333">PWR</text><text x="766" y="2774" font-size="4" fill="#333">STATUS</text>
<text x="788" y="2811" font-size="4" fill="#333">ESC</text><text x="831" y="2811" font-size="4" fill="#333">SET</text>
<g fill="none" stroke="#e3141e" stroke-width="2">
<ellipse cx="895" cy="2879" rx="28" ry="30"/>
<ellipse cx="1011" cy="2826" rx="60" ry="63"/>
<line x1="922" y1="2871" x2="950" y2="2852"/>
</g>
<polygon points="956,2848 944,2850 950,2859" fill="#e3141e"/>
<g fill="none" stroke="#555" stroke-width="1.3">
<rect x="968" y="2788" width="44" height="22" rx="3"/>
<circle cx="979" cy="2799" r="6"/><circle cx="979" cy="2799" r="3"/><circle cx="1001" cy="2799" r="6"/><circle cx="1001" cy="2799" r="3"/>
<path d="M968,2832 H1012 V2862 H968 V2851 H980 V2843 H968 Z"/>
<circle cx="1001" cy="2847" r="5"/>
<path d="M1035,2806 V2846 H1057 V2842 H1039 V2806 Z"/>
</g>

<!-- 3) RACK -->
<polygon points="1140,2629 2318,2623 2318,2750 1140,2756" fill="#fff" stroke="#777" stroke-width="2"/>
<rect x="1150" y="2682" width="21" height="22" rx="9" fill="none" stroke="#555" stroke-width="1.5"/>
<rect x="2287" y="2676" width="21" height="22" rx="9" fill="none" stroke="#555" stroke-width="1.5"/>
<use href="#rkm" x="1230" y="0"/>
<use href="#rkm" x="1570" y="-3"/>
<use href="#rkm" x="1910" y="-5"/>

<!-- 4) SUB RACK -->
<polygon points="1142,3014 2315,3007 2315,3048 1142,3053" fill="#fff" stroke="#444" stroke-width="2"/>
<polygon points="1142,3347 2315,3340 2315,3381 1142,3387" fill="#fff" stroke="#444" stroke-width="2"/>
<line x1="1142" y1="3014" x2="2315" y2="3007" stroke="#222" stroke-width="3"/>
<line x1="1142" y1="3387" x2="2315" y2="3381" stroke="#222" stroke-width="3"/>
<line x1="2256" y1="3012" x2="2256" y2="3385" stroke="#555" stroke-width="1.3"/>
<rect x="1153" y="3022" width="20" height="25" rx="8" fill="none" stroke="#555" stroke-width="1.5"/>
<rect x="2285" y="3018" width="18" height="24" rx="8" fill="none" stroke="#555" stroke-width="1.5"/>
<rect x="1153" y="3353" width="20" height="22" rx="8" fill="none" stroke="#555" stroke-width="1.5"/>
<rect x="2285" y="3348" width="18" height="24" rx="8" fill="none" stroke="#555" stroke-width="1.5"/>
<use href="#srm" x="1202" y="0"/>
<use href="#srm" x="1276" y="0"/>
<use href="#srm" x="1351" y="-1"/>
<use href="#srm" x="1427" y="-1"/>
<use href="#srm" x="1502" y="-1"/>
<use href="#srm" x="1578" y="-2"/>
<use href="#srm" x="1653" y="-2"/>
<use href="#srm" x="1729" y="-2"/>
<use href="#srm" x="1803" y="-3"/>
<use href="#srm" x="1879" y="-3"/>
<use href="#srm" x="1954" y="-3"/>
<use href="#srm" x="2029" y="-4"/>
<use href="#srm" x="2104" y="-4"/>
<use href="#srm" x="2180" y="-4"/>

<!-- 2) DESK PHOTO -->
<polygon points="81,3370 105,3343 105,3370" fill="#c4c6c8" stroke="#999"/>
<polygon points="407,3343 430,3370 407,3370" fill="#c4c6c8" stroke="#999"/>
<rect x="80" y="3168" width="24" height="22" fill="url(#conn)" stroke="#777"/>
<rect x="80" y="3213" width="24" height="22" fill="url(#conn)" stroke="#777"/>
<rect x="102" y="3135" width="308" height="235" fill="url(#silver)" stroke="#a0a2a5" stroke-width="1.5"/>
<rect x="160" y="3165" width="128" height="108" rx="5" fill="#5d6771"/>
<rect x="174" y="3176" width="99" height="92" fill="#2b7fd6"/>
<g font-size="6" fill="#fff">
<rect x="177" y="3179" width="34" height="12" fill="#1c56b0"/><rect x="212" y="3179" width="2" height="12" fill="#e8c020"/><rect x="216" y="3179" width="54" height="12" fill="#d8eaf9"/>
<text x="179" y="3188">채널 이름</text><text x="218" y="3188" fill="#333">HDTV</text>
<rect x="177" y="3194" width="34" height="12" fill="#1c56b0"/><rect x="212" y="3194" width="2" height="12" fill="#d83030"/><rect x="216" y="3194" width="54" height="12" fill="#d8eaf9"/>
<text x="179" y="3203">채널 번호</text><text x="218" y="3203" fill="#333">25-1</text>
<rect x="177" y="3209" width="34" height="12" fill="#1c56b0"/><rect x="212" y="3209" width="2" height="12" fill="#30a050"/><rect x="216" y="3209" width="54" height="12" fill="#d8eaf9"/>
<text x="179" y="3218">출력 채널</text><text x="218" y="3218" fill="#333">25CH 231MHz</text>
<rect x="177" y="3224" width="34" height="12" fill="#1c56b0"/><rect x="212" y="3224" width="2" height="12" fill="#e8c020"/><rect x="216" y="3224" width="54" height="12" fill="#d8eaf9"/>
<text x="179" y="3233">출력 모드</text><text x="218" y="3233" fill="#333">Cable</text>
<rect x="177" y="3239" width="34" height="12" fill="#1c56b0"/><rect x="212" y="3239" width="2" height="12" fill="#3060d0"/><rect x="216" y="3239" width="54" height="12" fill="#d8eaf9"/>
<text x="178" y="3248" font-size="5">RF출력 Level</text><text x="218" y="3248" fill="#333">105dBuV</text>
<rect x="177" y="3254" width="34" height="12" fill="#1c56b0"/><rect x="212" y="3254" width="2" height="12" fill="#3060d0"/><rect x="216" y="3254" width="54" height="12" fill="#d8eaf9"/>
<text x="179" y="3263">IP 주소</text><text x="218" y="3263" fill="#333">192.168.1.100</text>
</g>
<g fill="none" stroke="#1a1a1a" stroke-width="2.5">
<polyline points="232,3165 249,3145 410,3145"/>
<line x1="102" y1="3200" x2="160" y2="3200"/>
<polyline points="102,3265 140,3265 158,3290 288,3290"/>
<line x1="302" y1="3290" x2="409" y2="3290"/>
<line x1="102" y1="3312" x2="154" y2="3312"/>
<polyline points="137,3312 147,3333 197,3333"/>
<polyline points="166,3358 344,3358 358,3338 409,3338"/>
<polyline points="309,3311 330,3311 344,3293"/>
<polyline points="328,3333 344,3315 409,3315"/>
</g>
<g fill="#c9cbcd" stroke="#1a1a1a" stroke-width="2.5">
<circle cx="295" cy="3290" r="7"/><circle cx="160" cy="3312" r="7"/><circle cx="204" cy="3333" r="7"/><circle cx="160" cy="3358" r="7"/><circle cx="302" cy="3311" r="7"/><circle cx="324" cy="3338" r="7"/>
</g>
<g fill="#ebebeb" stroke="#a0a0a0" stroke-width="1.2">
<ellipse cx="345" cy="3178" rx="9" ry="11"/><ellipse cx="321" cy="3203" rx="9" ry="11"/><ellipse cx="366" cy="3203" rx="9" ry="11"/><ellipse cx="345" cy="3227" rx="9" ry="11"/><ellipse cx="321" cy="3258" rx="9" ry="11"/><ellipse cx="366" cy="3258" rx="9" ry="11"/>
</g>
<circle cx="302" cy="3186" r="4" fill="#7a1010"/><circle cx="301" cy="3244" r="4" fill="#555"/>
<text x="226" y="3348" font-size="17" font-weight="bold" fill="#333" textLength="46" lengthAdjust="spacingAndGlyphs">Vision</text>
<rect x="273" y="3332" width="20" height="18" fill="none" stroke="#333" stroke-width="2"/>
<text x="276" y="3346" font-size="12" font-weight="bold" fill="#333">TV</text>

<!-- side view -->
<rect x="455" y="3133" width="50" height="244" fill="url(#silverH)" stroke="#999"/>
<rect x="455" y="3133" width="50" height="6" fill="#8a8c8e"/>
<circle cx="463" cy="3150" r="2" fill="#333"/><circle cx="496" cy="3150" r="2" fill="#333"/>
<circle cx="477" cy="3188" r="4" fill="#8a1a1a"/>
<circle cx="477" cy="3215" r="3" fill="none" stroke="#777"/>
<rect x="474" y="3228" width="8" height="14" fill="#333"/>
<rect x="463" y="3285" width="28" height="35" fill="#1e1e1e"/>
<rect x="468" y="3292" width="18" height="20" fill="#4a4a4a"/>
<rect x="458" y="3340" width="45" height="37" fill="#b9bbbe" stroke="#999"/>
<circle cx="467" cy="3355" r="5" fill="#888"/><circle cx="494" cy="3355" r="5" fill="#888"/>

<!-- 2) DESK LINE DRAWING -->
<g fill="none" stroke="#444" stroke-width="1.5">
<rect x="563" y="3138" width="335" height="215"/>
<line x1="563" y1="3142" x2="898" y2="3142"/>
<line x1="563" y1="3349" x2="898" y2="3349"/>
<path d="M565,3104 H614 V3112 H600 V3128 H614 V3137 H565 Z"/>
<path d="M846,3104 H897 V3112 H883 V3128 H897 V3137 H846 Z"/>
<path d="M565,3354 H614 V3387 H565 V3378 H579 V3362 H565 Z"/>
<path d="M846,3354 H897 V3387 H846 V3378 H860 V3362 H846 Z"/>
<circle cx="573" cy="3120" r="6"/><circle cx="855" cy="3120" r="6"/><circle cx="605" cy="3370" r="6"/><circle cx="888" cy="3370" r="6"/>
<rect x="627" y="3165" width="138" height="97" rx="8"/>
<rect x="639" y="3170" width="114" height="87" stroke="#666" stroke-width="1"/>
</g>
<g fill="none" stroke="#111" stroke-width="3">
<polyline points="705,3165 723,3147 879,3147 879,3275"/>
<line x1="563" y1="3195" x2="627" y2="3195"/>
<polyline points="563,3254 602,3254 623,3275 766,3275"/>
<line x1="778" y1="3275" x2="897" y2="3275"/>
<line x1="563" y1="3297" x2="619" y2="3297"/>
<polyline points="600,3297 614,3316 667,3316"/>
<polyline points="629,3338 825,3338 839,3320 897,3320"/>
<polyline points="786,3297 810,3297 825,3280"/>
<polyline points="812,3316 828,3298 897,3298"/>
</g>
<g fill="#fff" stroke="#111" stroke-width="3">
<circle cx="772" cy="3276" r="6"/><circle cx="625" cy="3297" r="6"/><circle cx="674" cy="3316" r="6"/><circle cx="623" cy="3338" r="6"/><circle cx="780" cy="3297" r="6"/><circle cx="807" cy="3322" r="6"/>
</g>
<g fill="none" stroke="#444" stroke-width="1.3">
<ellipse cx="826" cy="3177" rx="10" ry="12"/><ellipse cx="801" cy="3198" rx="10" ry="12"/><ellipse cx="851" cy="3198" rx="10" ry="12"/><ellipse cx="826" cy="3218" rx="10" ry="12"/><ellipse cx="801" cy="3248" rx="10" ry="12"/><ellipse cx="851" cy="3248" rx="10" ry="12"/>
<circle cx="780" cy="3186" r="4"/><circle cx="780" cy="3237" r="4"/>
</g>
<text x="775" y="3178" font-size="4" fill="#333">PWR</text><text x="771" y="3229" font-size="4" fill="#333">STATUS</text>
<text x="797" y="3267" font-size="4" fill="#333">ESC</text><text x="847" y="3267" font-size="4" fill="#333">SET</text>
<g fill="none" stroke="#e3141e" stroke-width="2">
<ellipse cx="870" cy="3367" rx="33" ry="32"/>
<ellipse cx="1007" cy="3301" rx="68" ry="69"/>
<line x1="904" y1="3354" x2="940" y2="3313"/>
</g>
<polygon points="945,3306 933,3312 941,3319" fill="#e3141e"/>
<g fill="none" stroke="#555" stroke-width="1.3">
<rect x="959" y="3259" width="50" height="24" rx="3"/>
<circle cx="971" cy="3271" r="7"/><circle cx="971" cy="3271" r="3"/><circle cx="997" cy="3271" r="7"/><circle cx="997" cy="3271" r="3"/>
<path d="M959,3307 H1009 V3338 H959 V3328 H972 V3318 H959 Z"/>
<circle cx="996" cy="3323" r="6"/>
<path d="M1030,3287 V3312 H1072 V3308 H1034 V3287 Z"/>
</g>
</svg>
</body></html>
